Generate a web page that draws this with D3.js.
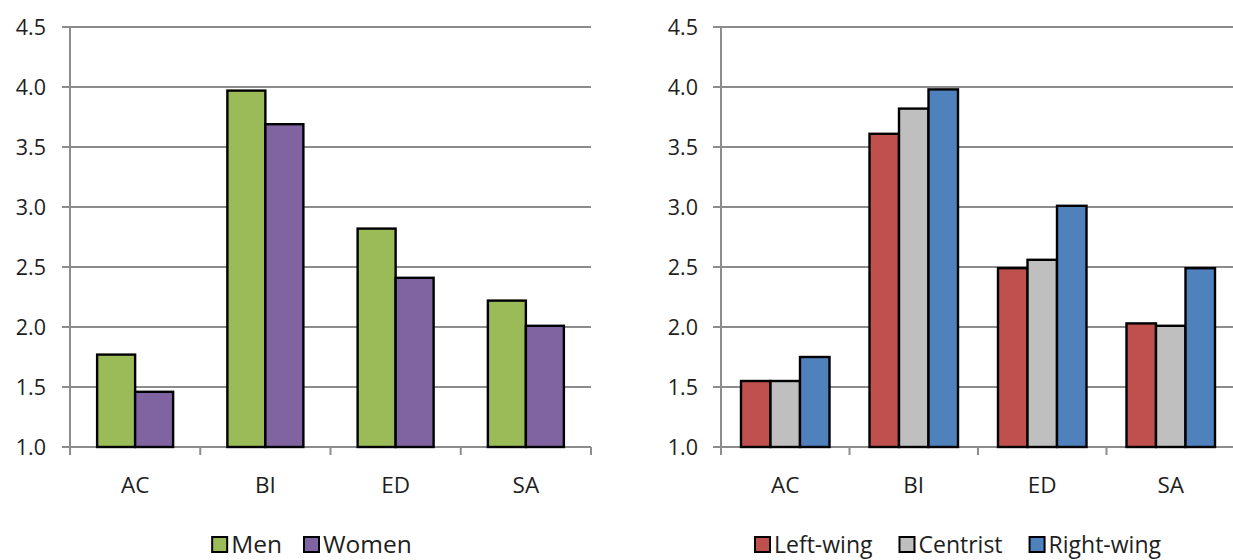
<!DOCTYPE html>
<html>
<head>
<meta charset="utf-8">
<script src="https://cdn.jsdelivr.net/npm/d3@7"></script>
<style>
  html, body { margin: 0; padding: 0; background: #fff; }
  svg { display: block; }
  text { font-family: "Open Sans", sans-serif; fill: #1e1e1e; }
</style>
</head>
<body>
<svg id="chart" width="1233" height="560"></svg>
<script>
// ---- data ----
const categories = ["AC", "BI", "ED", "SA"];
const yTicks = [1.0, 1.5, 2.0, 2.5, 3.0, 3.5, 4.0, 4.5];

const genderSeries = ["Men", "Women"];
const men   = [1.77, 3.97, 2.82, 2.22];
const women = [1.46, 3.69, 2.41, 2.01];

const politicsSeries = ["Left-wing", "Centrist", "Right-wing"];
const leftWing  = [1.55, 3.61, 2.49, 2.03];
const centrist  = [1.55, 3.82, 2.56, 2.01];
const rightWing = [1.75, 3.98, 3.01, 2.49];

const genderColors   = ["#9BBB59", "#8064A2"];
const politicsColors = ["#C0504D", "#BFBFBF", "#4F81BD"];

const svg = d3.select("#chart");

function drawPanel(opts) {
  const { x0, x1, yTop, yBottom, series, values, colors, barFrac, legendCenter, labelGap, legendGap, legendFont } = opts;
  const g = svg.append("g");

  const x = d3.scaleBand().domain(categories).range([x0, x1]).paddingInner(0).paddingOuter(0);
  const y = d3.scaleLinear().domain([1.0, 4.5]).range([yBottom, yTop]);
  const groupW = x.bandwidth() * barFrac;
  const xi = d3.scaleBand().domain(series).range([(x.bandwidth() - groupW) / 2, (x.bandwidth() + groupW) / 2]);

  const gridColor = "#8c8c8c";

  // gridlines (extend left as tick marks)
  g.append("g").selectAll("line").data(yTicks).join("line")
    .attr("x1", x0 - 8).attr("x2", x1)
    .attr("y1", d => y(d)).attr("y2", d => y(d))
    .attr("stroke", gridColor).attr("stroke-width", 2);

  // y axis line
  g.append("line")
    .attr("x1", x0).attr("x2", x0)
    .attr("y1", y(4.5)).attr("y2", yBottom + 8)
    .attr("stroke", gridColor).attr("stroke-width", 2);

  // x category ticks
  const tickPos = categories.map(c => x(c)).concat([x1]);
  g.append("g").selectAll("line").data(tickPos).join("line")
    .attr("x1", d => d).attr("x2", d => d)
    .attr("y1", yBottom).attr("y2", yBottom + 8)
    .attr("stroke", gridColor).attr("stroke-width", 2);

  // y tick labels
  g.append("g").selectAll("text").data(yTicks).join("text")
    .attr("x", x0 - labelGap).attr("y", d => y(d))
    .attr("dy", "0.36em")
    .attr("text-anchor", "end")
    .style("font-size", "21.5px")
    .text(d => d3.format(".1f")(d));

  // category labels
  g.append("g").selectAll("text").data(categories).join("text")
    .attr("x", d => x(d) + x.bandwidth() / 2)
    .attr("y", 493)
    .attr("text-anchor", "middle")
    .style("font-size", "22.5px")
    .text(d => d);

  // bars
  series.forEach((s, si) => {
    g.append("g").selectAll("rect").data(values[si]).join("rect")
      .attr("x", (d, i) => x(categories[i]) + xi(s))
      .attr("width", xi.bandwidth())
      .attr("y", d => y(d))
      .attr("height", d => yBottom - y(d))
      .attr("fill", colors[si])
      .attr("stroke", "#000")
      .attr("stroke-width", 2.4);
  });

  // legend
  const lg = g.append("g");
  const items = lg.selectAll("g").data(series).join("g");
  items.append("rect")
    .attr("width", 15).attr("height", 15)
    .attr("y", 537)
    .attr("fill", (d, i) => colors[i])
    .attr("stroke", "#000").attr("stroke-width", 2);
  items.append("text")
    .attr("x", 19).attr("y", 553)
    .style("font-size", legendFont + "px")
    .text(d => d);
  const widths = [];
  items.each(function () {
    const w = 19 + d3.select(this).select("text").node().getComputedTextLength();
    widths.push(w);
  });
  const total = d3.sum(widths) + legendGap * (widths.length - 1);
  let start = legendCenter - total / 2;
  items.attr("transform", (d, i) => {
    const tx = start;
    start += widths[i] + legendGap;
    return `translate(${tx},0)`;
  });
}

drawPanel({
  x0: 70, x1: 591, yTop: 27, yBottom: 447,
  series: genderSeries, values: [men, women], colors: genderColors,
  barFrac: 76 / 130.25, legendCenter: 312, labelGap: 24, legendGap: 22, legendFont: 24.5
});

drawPanel({
  x0: 721, x1: 1235, yTop: 27, yBottom: 447,
  series: politicsSeries, values: [leftWing, centrist, rightWing], colors: politicsColors,
  barFrac: 88.5 / 128.5, legendCenter: 958, labelGap: 23, legendGap: 27, legendFont: 23
});
</script>
</body>
</html>
